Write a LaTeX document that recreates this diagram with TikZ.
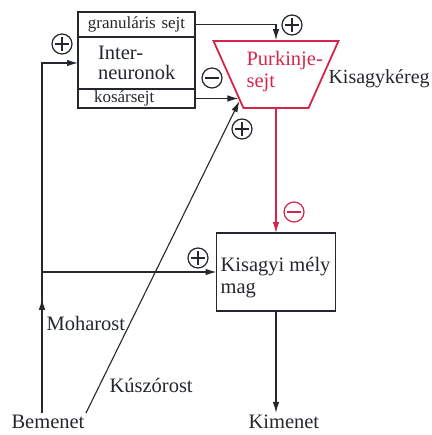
\documentclass[tikz,border=0pt]{standalone}
\usepackage{fontspec}
\setmainfont{Liberation Serif}
\usetikzlibrary{positioning, shapes.geometric, arrows.meta, decorations.markings}
\definecolor{purkred}{RGB}{214,38,74}
\definecolor{linegray}{RGB}{36,40,44}

\begin{document}
\begin{tikzpicture}[x=1pt, y=-1pt, color=linegray, line width=1.1pt,
    txt/.style={font=\fontsize{20.5}{22}\selectfont, inner sep=1pt},
    cell/.style={draw, rectangle, line width=1.5pt, outer sep=0pt, inner ysep=0pt},
    arr/.style={-{Latex[length=11pt, width=6.5pt]}},
    midarr/.style={postaction={decorate}, decoration={markings,
        mark=at position 0.81 with {\arrow{Latex[length=11pt, width=6.5pt]}}}},
    sign/.style={circle, draw, line width=1.2pt, minimum size=20pt, inner sep=0pt},
    plus/.style={sign, path picture={
        \draw[line width=1.2pt] ([xshift=-7pt]path picture bounding box.center) -- ([xshift=7pt]path picture bounding box.center)
          ([yshift=-7pt]path picture bounding box.center) -- ([yshift=7pt]path picture bounding box.center);}},
    minus/.style={sign, path picture={
        \draw[line width=1.2pt] ([xshift=-7pt]path picture bounding box.center) -- ([xshift=7pt]path picture bounding box.center);}},
]
\useasboundingbox[fill=white] (0,0) rectangle (431,435);

% interneuron block
\node[cell, minimum height=25pt, text width=100pt, inner xsep=8.5pt, align=center,
      font=\fontsize{17}{20}\selectfont] (gran) at (136.5,24.5) {granuláris sejt};
\node[cell, minimum height=52pt, text width=77pt, inner xsep=20pt, align=left,
      font=\fontsize{20.5}{20}\selectfont, below=0pt of gran] (inter) {Inter-\\neuronok};
\node[cell, minimum height=19pt, text width=85pt, inner xsep=16pt, align=left,
      font=\fontsize{17}{20}\selectfont, below=0pt of inter] (kosar) {kosársejt};

% Purkinje cell
\node[trapezium, shape border rotate=180, trapezium angle=65.3, trapezium stretches=true,
      minimum width=125pt, minimum height=67pt, draw=purkred, line width=1.8pt] (purk) at (276,74.5) {};
\node[txt, text=purkred, align=left, anchor=west] (purktxt) at (245,72) {Purkinje-\\sejt};
\node[txt, anchor=base west, font=\fontsize{20}{22}\selectfont] (kereg) at (327,84) {Kisagykéreg};

% deep nucleus
\node[cell, minimum width=119pt, minimum height=78pt] (mag) at (276,272) {};
\node[txt, align=left, anchor=west] (magtxt) at (219,278) {Kisagyi mély\\mag};

% inputs and output
\node[txt, anchor=base west] (bemenet) at (10,428) {Bemenet};
\node[txt, anchor=base west] (kimenet) at (247,428) {Kimenet};
\node[txt, anchor=base west] (moha) at (45,330) {Moharost};
\node[txt, anchor=base west] (kusz) at (108,392) {Kúszórost};
\coordinate (split) at (42,272);

% connections
\draw[arr] (gran.east) -| (purk.north);
\draw[arr] (kosar.east) -- (kosar.east -| purk.213);
\draw[midarr] (bemenet.north -| split) -- (split);
\draw[arr] (split) |- (inter.west);
\draw[arr] (split) -- (mag.west);
\draw[arr] (bemenet.north east) -- (purk.216);
\draw[arr, purkred] (purk.south) -- (mag.north);
\draw[arr] (mag.south) -- (mag.south |- kimenet.north);

% signs
\node[plus] (s1) at (62,44) {};
\node[plus] (s2) at (292,25) {};
\node[minus] (s3) at (212,78) {};
\node[plus] (s4) at (242,129) {};
\node[minus, draw=purkred, color=purkred] (s5) at (294,212) {};
\node[plus] (s6) at (198,258) {};
\end{tikzpicture}
\end{document}
